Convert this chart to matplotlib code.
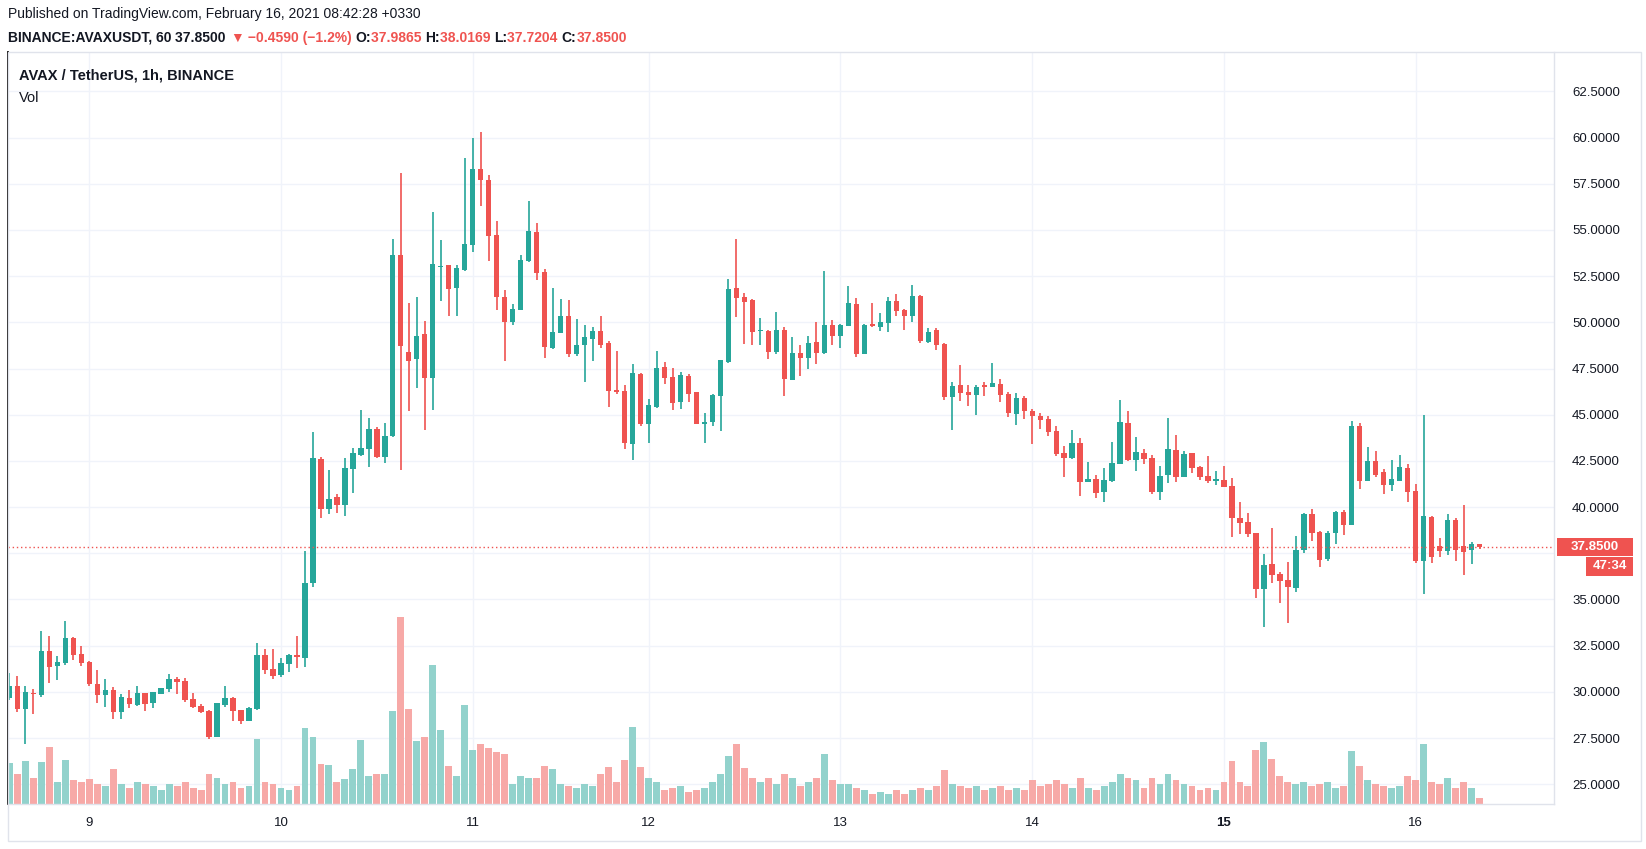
import matplotlib
matplotlib.use("Agg")
import matplotlib.pyplot as plt
import matplotlib.transforms as mtransforms
from matplotlib.patches import Rectangle
import numpy as np

# AVAX/USDT 1h candles (Feb 8 afternoon .. Feb 16 morning)
opens = [29.69, 30.32, 29.09, 29.94, 29.83, 32.21, 31.42, 31.58, 32.92, 32.05,
         31.62, 30.43, 29.85, 30.10, 28.93, 29.67, 29.31, 29.94, 29.42, 29.90,
         30.17, 30.70, 30.59, 29.62, 29.24, 28.97, 27.58, 29.31, 29.67, 29.02,
         28.44, 29.09, 31.99, 31.24, 30.93, 31.53, 31.99, 31.85, 35.89, 42.61,
         39.90, 40.55, 40.12, 42.08, 42.82, 43.17, 44.23, 42.71, 43.85, 53.64,
         48.40, 48.03, 49.37, 47.01, 53.00, 53.10, 51.88, 52.85, 54.20, 58.30,
         57.70, 54.72, 51.37, 50.03, 50.68, 53.32, 54.89, 52.72, 48.63, 49.44,
         50.34, 48.30, 48.79, 49.11, 49.53, 48.88, 46.34, 46.29, 43.44, 47.21,
         44.52, 45.44, 47.59, 47.04, 45.71, 47.10, 46.23, 44.52, 44.63, 46.03,
         47.87, 51.86, 51.37, 51.21, 49.53, 49.53, 48.41, 49.58, 46.89, 48.34,
         48.08, 48.93, 48.35, 49.85, 49.26, 49.80, 50.99, 48.28, 49.91, 49.74,
         49.96, 51.15, 50.66, 50.34, 51.40, 48.95, 49.60, 48.82, 45.97, 46.60,
         46.23, 46.08, 46.60, 46.51, 46.66, 46.12, 45.05, 45.90, 45.20, 44.93,
         44.77, 44.13, 42.93, 42.66, 43.47, 41.38, 41.52, 40.84, 41.43, 42.35,
         44.55, 42.57, 42.93, 42.66, 40.84, 41.76, 43.09, 41.65, 42.93, 42.17,
         41.68, 41.43, 41.47, 41.14, 39.41, 39.20, 38.60, 35.59, 36.92, 36.38,
         36.08, 35.64, 37.70, 39.63, 38.66, 37.21, 38.62, 39.74, 39.05, 44.39,
         41.43, 42.50, 41.90, 41.22, 41.43, 42.12, 40.87, 37.10, 39.45, 37.90,
         37.60, 39.30, 37.90, 37.70, 37.9865]
highs = [31.02, 30.86, 30.32, 30.16, 33.29, 33.02, 31.94, 33.84, 32.97, 32.48,
         31.67, 31.18, 30.70, 30.26, 29.89, 30.10, 30.32, 29.94, 29.99, 30.21,
         30.97, 30.81, 30.75, 29.94, 29.35, 29.02, 29.40, 30.32, 29.72, 29.02,
         29.18, 32.65, 32.32, 32.32, 31.83, 32.05, 33.02, 37.62, 44.07, 42.71,
         42.01, 40.71, 42.66, 43.20, 45.26, 44.82, 44.34, 44.55, 54.51, 58.08,
         51.05, 51.37, 50.07, 55.97, 54.46, 53.10, 53.10, 58.90, 60.00, 60.30,
         58.00, 55.48, 51.75, 50.99, 53.64, 56.56, 55.37, 52.88, 51.86, 51.26,
         51.21, 50.18, 49.85, 49.75, 50.34, 48.99, 48.45, 46.61, 47.75, 47.26,
         45.85, 48.45, 47.86, 47.53, 47.31, 47.21, 46.23, 45.11, 46.14, 47.96,
         52.35, 54.51, 51.59, 51.27, 50.23, 49.58, 50.55, 49.74, 49.20, 48.77,
         49.26, 50.01, 52.77, 50.12, 49.91, 51.96, 51.31, 49.91, 51.04, 50.50,
         51.37, 51.53, 50.72, 52.00, 51.50, 49.70, 49.70, 48.90, 46.77, 47.69,
         46.60, 46.60, 46.77, 47.80, 46.93, 46.23, 46.17, 46.01, 45.31, 45.09,
         44.93, 44.39, 43.31, 44.17, 43.74, 42.44, 41.74, 42.12, 43.52, 45.80,
         45.20, 43.79, 43.15, 42.82, 42.23, 44.82, 43.90, 43.04, 42.93, 42.23,
         42.77, 41.96, 42.24, 41.58, 40.30, 39.68, 38.60, 37.46, 38.87, 36.50,
         37.05, 38.44, 39.68, 39.90, 38.71, 38.71, 39.79, 39.85, 44.66, 44.55,
         43.26, 43.04, 42.06, 42.55, 42.82, 42.33, 41.27, 45.00, 39.50, 38.30,
         39.60, 39.40, 40.10, 38.10, 38.0169]
lows = [29.55, 28.91, 27.20, 28.82, 29.74, 30.50, 30.66, 31.47, 31.74, 31.42,
        30.34, 29.42, 29.20, 28.55, 28.55, 29.15, 29.25, 28.98, 29.15, 29.89,
        30.01, 29.90, 29.47, 29.15, 28.88, 27.47, 27.58, 29.20, 28.44, 28.28,
        28.44, 29.04, 30.99, 30.72, 30.82, 31.10, 31.31, 31.36, 35.70, 39.40,
        39.60, 39.70, 39.50, 40.78, 42.77, 42.19, 42.66, 42.41, 43.80, 42.03,
        45.22, 46.47, 44.19, 45.27, 51.17, 50.36, 50.36, 52.80, 53.82, 56.31,
        53.33, 50.68, 47.92, 49.87, 50.68, 53.26, 52.31, 48.09, 48.57, 49.44,
        48.14, 48.19, 46.79, 47.92, 48.63, 45.44, 46.14, 43.17, 42.55, 44.41,
        43.49, 45.38, 46.68, 45.28, 45.33, 45.71, 44.47, 43.49, 44.41, 44.14,
        47.82, 50.31, 48.85, 48.79, 48.79, 48.03, 48.30, 46.03, 46.89, 47.11,
        47.49, 47.76, 48.30, 48.79, 48.63, 49.80, 48.12, 48.28, 49.74, 49.53,
        49.47, 50.34, 49.58, 50.00, 48.90, 48.90, 48.52, 45.81, 44.19, 45.76,
        45.49, 45.00, 46.03, 46.51, 45.70, 44.89, 44.46, 44.78, 43.43, 44.24,
        43.86, 42.78, 41.65, 42.60, 40.62, 41.38, 40.51, 40.30, 41.38, 42.35,
        42.51, 41.97, 42.35, 40.73, 40.40, 41.32, 41.38, 41.65, 41.86, 41.49,
        41.32, 41.22, 41.11, 38.40, 38.56, 38.40, 35.10, 33.50, 35.91, 34.80,
        33.70, 35.43, 37.54, 38.19, 36.78, 37.10, 38.02, 38.51, 39.05, 41.00,
        41.43, 41.65, 40.73, 40.89, 41.43, 40.30, 36.99, 35.30, 37.00, 37.30,
        37.40, 37.10, 36.30, 36.90, 37.7204]
closes = [30.32, 29.09, 29.99, 29.89, 32.21, 31.37, 31.62, 32.92, 32.02, 31.58,
          30.45, 29.85, 30.10, 28.93, 29.72, 29.36, 29.94, 29.36, 29.99, 30.21,
          30.70, 30.55, 29.58, 29.20, 28.93, 27.58, 29.40, 29.67, 28.98, 28.44,
          29.13, 31.99, 31.20, 30.88, 31.56, 32.00, 31.89, 35.89, 42.66, 39.90,
          40.44, 40.12, 42.12, 42.93, 43.20, 44.23, 42.71, 43.85, 53.64, 48.74,
          47.91, 49.26, 47.01, 53.16, 53.03, 51.82, 52.94, 54.24, 58.30, 57.70,
          54.69, 51.39, 50.03, 50.70, 53.37, 54.94, 52.69, 48.68, 49.47, 50.34,
          48.30, 48.77, 49.20, 49.53, 48.79, 46.30, 46.23, 43.49, 47.26, 44.52,
          45.53, 47.53, 47.01, 45.66, 47.15, 46.14, 44.52, 44.63, 46.07, 47.96,
          51.81, 51.34, 51.12, 49.50, 49.56, 48.41, 49.58, 46.95, 48.34, 48.08,
          48.88, 48.35, 49.85, 49.26, 49.85, 51.04, 48.28, 49.85, 49.80, 50.01,
          51.15, 50.61, 50.34, 51.40, 49.00, 49.50, 48.79, 45.97, 46.55, 46.19,
          46.08, 46.50, 46.51, 46.71, 46.08, 45.11, 45.90, 45.22, 44.95, 44.73,
          44.08, 42.89, 42.66, 43.47, 41.38, 41.52, 40.78, 41.47, 42.39, 44.61,
          42.57, 42.98, 42.62, 40.84, 41.68, 43.15, 41.65, 42.87, 42.14, 41.65,
          41.43, 41.52, 41.11, 39.43, 39.16, 38.56, 35.59, 36.87, 36.35, 36.02,
          35.70, 37.68, 39.63, 38.62, 37.16, 38.60, 39.74, 39.05, 44.39, 41.43,
          42.50, 41.76, 41.22, 41.52, 42.17, 40.84, 37.10, 39.50, 37.30, 37.60,
          39.30, 37.70, 37.55, 37.99, 37.85]
# volume (arbitrary units)
volumes = [41, 30, 43, 26, 42, 57, 22, 44, 24, 22, 25, 20, 18, 35, 20, 16, 22, 20, 18, 14,
           20, 18, 22, 16, 14, 30, 26, 20, 22, 16, 18, 65, 22, 20, 16, 14, 18, 76, 67, 40,
           39, 22, 25, 35, 64, 28, 30, 30, 93, 187, 95, 63, 67, 139, 74, 38, 28, 99, 54, 60,
           56, 52, 50, 20, 28, 26, 26, 38, 35, 20, 18, 16, 20, 18, 30, 37, 22, 44, 77, 37,
           26, 22, 14, 16, 18, 12, 14, 16, 22, 30, 48, 60, 36, 26, 22, 26, 20, 30, 26, 18,
           22, 26, 50, 24, 20, 20, 16, 14, 10, 12, 10, 14, 10, 14, 16, 14, 18, 34, 20, 18,
           16, 18, 14, 16, 18, 14, 16, 14, 24, 18, 20, 24, 20, 16, 26, 16, 14, 18, 22, 30,
           26, 24, 16, 26, 20, 30, 24, 20, 18, 14, 16, 14, 22, 43, 22, 18, 54, 62, 45, 28,
           22, 20, 22, 18, 20, 22, 16, 18, 53, 38, 24, 20, 18, 16, 18, 28, 24, 60, 22, 20,
           26, 16, 22, 16, 6]

day_labels = ["9", "10", "11", "12", "13", "14", "15", "16"]
day_index = [10, 34, 58, 80, 104, 128, 152, 176]   # bar index of each day's first hour
price_ticks = [25.0 + 2.5 * i for i in range(16)]

UP, DOWN = "#26a69a", "#ef5350"
VUP, VDOWN = "#92d2cc", "#f7a9a7"
TXT = "#131722"
GRID = "#f0f3fa"

W, H = 1646, 849
fig = plt.figure(figsize=(W / 100, H / 100), dpi=100)
fig.patch.set_facecolor("white")
plt.rcParams["font.family"] = ["Liberation Sans", "DejaVu Sans"]

L, R, T, B = 8, 1554, 52, 804
rect = [L / W, 1 - B / H, (R - L) / W, (B - T) / H]
axv = fig.add_axes(rect)
ax = fig.add_axes(rect, sharex=axv)
ax.patch.set_visible(False)

o = np.array(opens); h = np.array(highs); lo = np.array(lows); c = np.array(closes)
x = np.arange(len(o))
up = c >= o
cols = np.where(up, UP, DOWN)

# volume pane (background)
axv.bar(x, volumes, width=0.86, color=np.where(up, VUP, VDOWN), linewidth=0)
axv.set_ylim(0, max(volumes) * 4.02)
axv.set_xlim(-0.16, 193.3)
axv.set_xticks(day_index)
axv.xaxis.grid(True, color=GRID, linewidth=1)
axv.set_axisbelow(True)
axv.tick_params(left=False, bottom=False, labelleft=False, labelbottom=False)
for s in axv.spines.values():
    s.set_visible(False)

# candles
ax.vlines(x, lo, h, colors=cols, linewidth=1.2)
ax.bar(x, np.maximum(np.abs(c - o), 0.06), bottom=np.minimum(o, c), width=0.66,
       color=cols, linewidth=0)
ax.set_ylim(23.93, 64.63)
ax.set_xlim(-0.16, 193.3)

# horizontal grid drawn in the background pane at price levels
gtrans = mtransforms.blended_transform_factory(axv.transAxes, ax.transData)
for p in price_ticks:
    axv.plot([0, 1], [p, p], color=GRID, linewidth=1, transform=gtrans, zorder=0)

ax.axhline(c[-1], color=DOWN, linestyle=(0, (1, 2)), linewidth=1)

# the 37.5 label sits under the last-price tag in the original, so leave it blank
ax.yaxis.tick_right()
ax.set_yticks(price_ticks)
ax.set_yticklabels(["" if abs(p - c[-1]) < 1.0 else "%.4f" % p for p in price_ticks])
ax.tick_params(axis="y", length=0, pad=13, labelsize=9.5, labelcolor=TXT)
ax.set_xticks(day_index)
ax.set_xticklabels(day_labels)
ax.tick_params(axis="x", length=0, pad=9, labelsize=9.5, labelcolor=TXT)
for lab in ax.get_xticklabels():
    if lab.get_text() == "15":
        lab.set_fontweight("bold")

for name, s in ax.spines.items():
    s.set_color("#e0e3eb")
    s.set_linewidth(1)
ax.spines["top"].set_visible(False)
ax.spines["left"].set_color("black")
ax.spines["left"].set_linewidth(1.3)

# outer frame
fig.add_artist(Rectangle((8 / W, 1 - 841 / H), (1641 - 8) / W, (841 - 52) / H,
                         transform=fig.transFigure, fill=False, ec="#e0e3eb", lw=1))

# last price tag and countdown
yp = ax.transData.transform((0, c[-1]))[1]
fig.add_artist(Rectangle((1557 / W, (yp - 9) / H), 76 / W, 18 / H,
                         transform=fig.transFigure, fc=DOWN, ec="none"))
fig.text(1595 / W, yp / H, "%.4f" % c[-1], color="white", fontsize=9.5,
         fontweight="bold", ha="center", va="center")
fig.add_artist(Rectangle((1586 / W, (yp - 29) / H), 47 / W, 19 / H,
                         transform=fig.transFigure, fc=DOWN, ec="none"))
fig.text(1609.5 / W, (yp - 19.5) / H, "47:34", color="white", fontsize=9.5,
         fontweight="bold", ha="center", va="center")

# legends inside the pane
fig.text(19 / W, 1 - 76 / H, "AVAX / TetherUS, 1h, BINANCE", fontsize=10.5,
         color=TXT, fontweight="bold", va="center")
fig.text(19 / W, 1 - 98 / H, "Vol", fontsize=10.5, color=TXT, va="center")

# header
fig.text(8 / W, 1 - 14 / H, "Published on TradingView.com, February 16, 2021 08:42:28 +0330",
         fontsize=10, color=TXT, va="center")
pieces = [("BINANCE:AVAXUSDT, 60 ", TXT), ("37.8500 ", TXT), ("\u25bc", DOWN),
          (" \u22120.4590 (\u22121.2%) ", DOWN), ("O:", TXT), ("37.9865 ", DOWN),
          ("H:", TXT), ("38.0169 ", DOWN), ("L:", TXT), ("37.7204 ", DOWN),
          ("C:", TXT), ("37.8500", DOWN)]
renderer = fig.canvas.get_renderer()
xpos = 8
for s, col in pieces:
    t = fig.text(xpos / W, 1 - 38 / H, s, fontsize=10, color=col, fontweight="bold",
                 va="center")
    bb = t.get_window_extent(renderer)
    xpos = bb.x1

fig.savefig("out.png", dpi=100)
